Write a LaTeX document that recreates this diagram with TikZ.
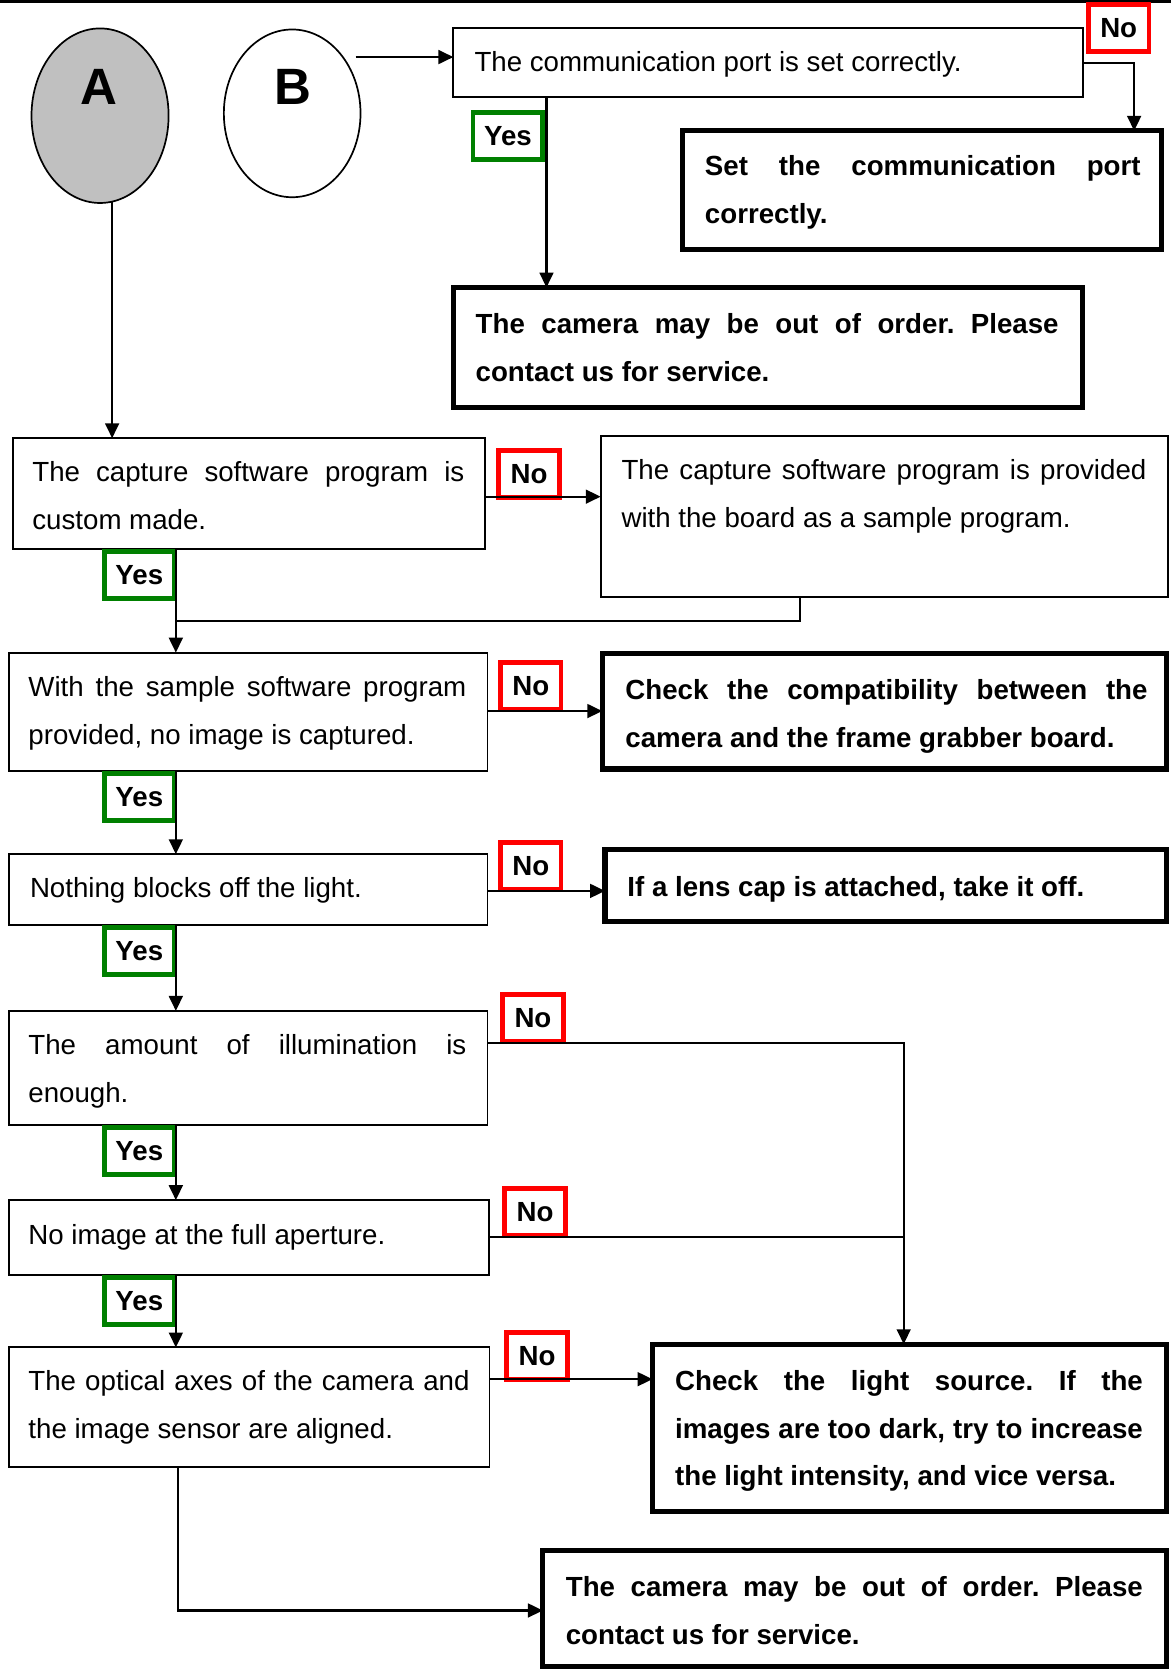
\documentclass[tikz,border=0pt]{standalone}
\usepackage{fontspec}
\setmainfont{Liberation Sans}
\usetikzlibrary{arrows.meta,shapes.geometric}
\definecolor{nored}{RGB}{255,0,0}
\definecolor{yesgreen}{RGB}{0,128,0}
\definecolor{silverfill}{RGB}{192,192,192}
\newcommand\txtlines[1]{\vtop{\baselineskip=44.7pt\lineskip=0pt\lineskiplimit=-100pt #1}}
\frenchspacing
\begin{document}
\begin{tikzpicture}[x=1pt,y=-1pt,
  thinbox/.style={draw, line width=1.8pt, inner sep=0pt, outer sep=0pt, rectangle},
  thickbox/.style={draw, line width=4.8pt, inner sep=0pt, outer sep=0pt, rectangle},
  txt/.style={anchor=base west, inner sep=0pt, outer sep=0pt, font=\fontsize{26}{30}\selectfont},
  btxt/.style={anchor=base west, inner sep=0pt, outer sep=0pt, font=\fontsize{26}{30}\selectfont\bfseries},
  bigletter/.style={anchor=base, inner sep=0pt, outer sep=0pt, font=\fontsize{48}{50}\selectfont\bfseries},
  yeslab/.style={draw=yesgreen, line width=4.5pt, fill=white, rectangle, minimum width=65.5pt, minimum height=44pt, inner sep=0pt, outer sep=0pt, font=\fontsize{26}{30}\selectfont\bfseries},
  nolab/.style={draw=nored, line width=4.5pt, fill=white, rectangle, minimum width=57pt, minimum height=44.5pt, inner sep=0pt, outer sep=0pt, font=\fontsize{26}{30}\selectfont\bfseries},
  oval/.style={draw, ellipse, line width=1.6pt, inner sep=0pt, outer sep=0pt},
  conn/.style={line width=2pt},
  arr/.style={conn, -{Triangle[length=14pt,width=13pt]}}
]
\useasboundingbox (0,0) rectangle (1100,1568);
\fill (0,0) rectangle (1100,2.6);

% ovals
\node[oval, fill=silverfill, minimum width=128.8pt, minimum height=164pt] (A) at (94,108.7) {};
\node[bigletter] (Atxt) at (93,98) {A};
\node[oval, fill=white, minimum width=128.4pt, minimum height=157.6pt] (B) at (274.5,106.5) {};
\node[bigletter] (Btxt) at (275.5,98) {B};

% boxes
\node[thinbox, minimum width=591.8pt, minimum height=64.4pt] (comm) at (721.8,58.9) {};
\node[thickbox, minimum width=450.4pt, minimum height=111.1pt] (set) at (866.4,178.45) {};
\node[thickbox, minimum width=591.2pt, minimum height=112.5pt] (cam1) at (721.5,326.35) {};
\node[thinbox, minimum width=443.8pt, minimum height=104.1pt] (capture) at (233.9,463.75) {};
\node[thinbox, minimum width=532.7pt, minimum height=151pt] (provided) at (830.65,485) {};
\node[thinbox, minimum width=449.7pt, minimum height=110.9pt] (sample) at (233.15,668.55) {};
\node[thickbox, minimum width=530.2pt, minimum height=108.6pt] (compat) at (830.9,668.2) {};
\node[thinbox, minimum width=449.7pt, minimum height=66.5pt] (nothing) at (233.15,835.75) {};
\node[thickbox, minimum width=527.6pt, minimum height=67.2pt] (lens) at (832.2,832) {};
\node[thinbox, minimum width=449.7pt, minimum height=106.8pt] (amount) at (233.15,1003.1) {};
\node[thinbox, minimum width=451.2pt, minimum height=70pt] (aperture) at (233.9,1162.5) {};
\node[thinbox, minimum width=451.6pt, minimum height=112.5pt] (optical) at (234.1,1322.15) {};
\node[thickbox, minimum width=483pt, minimum height=157.3pt] (light) at (854.5,1341.45) {};
\node[thickbox, minimum width=586pt, minimum height=109.3pt] (cam2) at (803,1510.95) {};

% texts
\node[txt] (t-comm) at (445.8,67.3) {The communication port is set correctly.};
\node[btxt] (t-set) at (662.3,165.3) {\txtlines{\hbox{\makebox[409.3pt][s]{Set the communication port}}\hbox{correctly.}}};
\node[btxt] (t-cam1) at (446.9,313.5) {\txtlines{\hbox{\makebox[547.7pt][s]{The camera may be out of order. Please}}\hbox{contact us for service.}}};
\node[txt] (t-capture) at (30.4,452.5) {\txtlines{\hbox{\makebox[405.9pt][s]{The capture software program is}}\hbox{custom made.}}};
\node[txt] (t-provided) at (583.9,450.9) {\txtlines{\hbox{\makebox[493.1pt][s]{The capture software program is provided}}\hbox{with the board as a sample program.}}};
\node[txt] (t-sample) at (26.7,654.6) {\txtlines{\hbox{\makebox[411.4pt][s]{With the sample software program}}\hbox{provided, no image is captured.}}};
\node[btxt] (t-compat) at (587.6,657.6) {\txtlines{\hbox{\makebox[490.5pt][s]{Check the compatibility between the}}\hbox{camera and the frame grabber board.}}};
\node[txt] (t-nothing) at (28.2,843.2) {Nothing blocks off the light.};
\node[btxt] (t-lens) at (589.5,842.3) {If a lens cap is attached, take it off.};
\node[txt] (t-amount) at (26.7,991) {\txtlines{\hbox{\makebox[411.4pt][s]{The amount of illumination is}}\hbox{enough.}}};
\node[txt] (t-aperture) at (26.7,1169.5) {No image at the full aperture.};
\node[txt] (t-optical) at (26.7,1306.4) {\txtlines{\hbox{\makebox[414.4pt][s]{The optical axes of the camera and}}\hbox{the image sensor are aligned.}}};
\node[btxt] (t-light) at (634.3,1306.4) {\txtlines{\hbox{\makebox[439.4pt][s]{Check the light source. If the}}\hbox{\makebox[439.4pt][s]{images are too dark, try to increase}}\hbox{the light intensity, and vice versa.}}};
\node[btxt] (t-cam2) at (531.6,1499.9) {\txtlines{\hbox{\makebox[542.1pt][s]{The camera may be out of order. Please}}\hbox{contact us for service.}}};

% labels
\node[nolab] (n1) at (1051,26.5) {No};
\node[yeslab] (y1) at (477.2,127.6) {Yes};
\node[nolab] (n2) at (497,445.4) {No};
\node[yeslab] (y2) at (130.9,540.3) {Yes};
\node[nolab] (n3) at (498.6,644.3) {No};
\node[yeslab] (y3) at (130.9,748.7) {Yes};
\node[nolab] (n4) at (498.6,813.4) {No};
\node[yeslab] (y4) at (130.9,893.2) {Yes};
\node[nolab] (n5) at (500.7,956.3) {No};
\node[yeslab] (y5) at (130.9,1081.3) {Yes};
\node[nolab] (n6) at (502.7,1138.5) {No};
\node[yeslab] (y6) at (130.9,1222) {Yes};
\node[nolab] (n7) at (504.6,1274.1) {No};

% connectors
\coordinate (bstart) at (334,53.6);
\draw[arr] (bstart) -- (bstart -| comm.west);
\draw[arr] (comm.east) -- (1065.5,58.9) -- (1065.5,0 |- set.north);
\draw[arr] (513.4,0 |- comm.south) -- (513.4,0 |- cam1.north);
\draw[arr] (A.-82.2) -- (A.-82.2 |- capture.north);
\draw[arr] (capture.east |- 0,466.6) -- (provided.west |- 0,466.6);
\draw[arr] (165.2,0 |- capture.south) -- (165.2,0 |- sample.north);
\draw[conn] (751.2,0 |- provided.south) -- (751.2,583.7) -- (165.2,583.7);
\draw[arr] (sample.east |- 0,668) -- (compat.west |- 0,668);
\draw[arr] (165.2,0 |- sample.south) -- (165.2,0 |- nothing.north);
\draw[arr] (nothing.east |- 0,837) -- (lens.west |- 0,837);
\draw[arr] (165.2,0 |- nothing.south) -- (165.2,0 |- amount.north);
\draw[arr] (amount.east |- 0,980) -- (849,980) -- (849,0 |- light.north);
\draw[arr] (165.2,0 |- amount.south) -- (165.2,0 |- aperture.north);
\draw[conn] (aperture.east |- 0,1162.3) -- (849,1162.3);
\draw[arr] (165.2,0 |- aperture.south) -- (165.2,0 |- optical.north);
\draw[arr] (optical.east |- 0,1295.7) -- (light.west |- 0,1295.7);
\draw[arr] (167.1,0 |- optical.south) -- (167.1,1513) -- (cam2.west |- 0,1513);
\end{tikzpicture}
\end{document}
